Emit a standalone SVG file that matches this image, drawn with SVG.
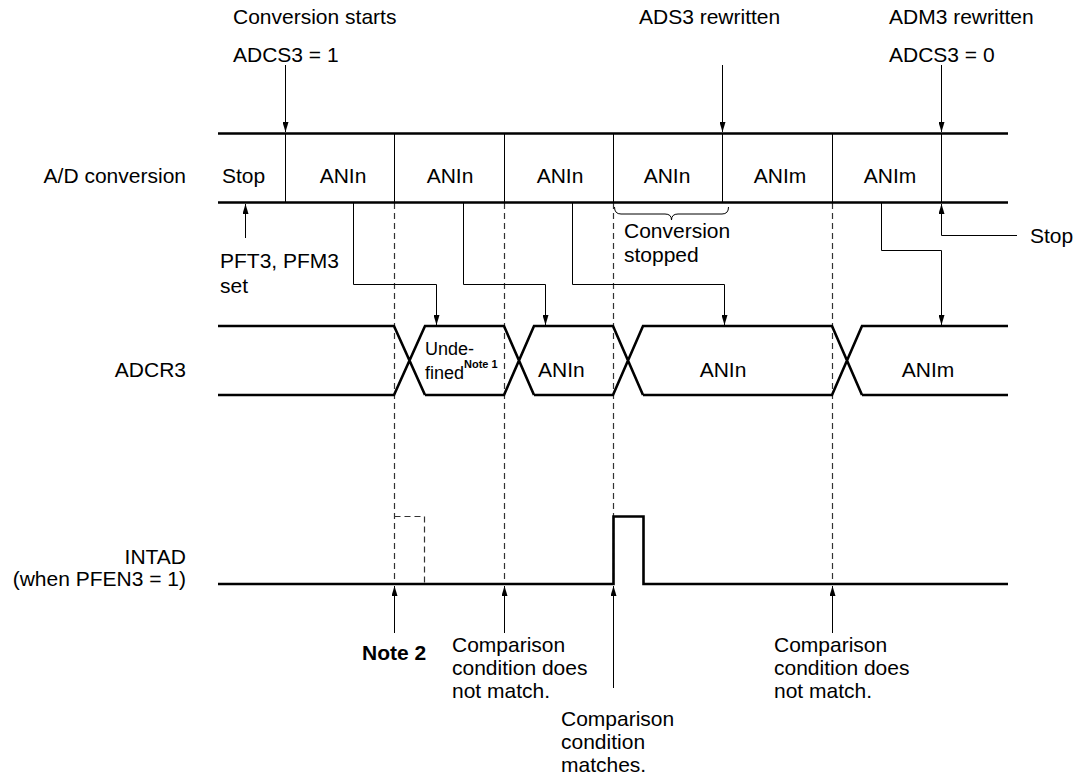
<svg xmlns="http://www.w3.org/2000/svg" width="1076" height="779" viewBox="0 0 1076 779">
<style>
.t{font-family:"Liberation Sans",Arial,sans-serif;font-size:21px;fill:#000}
.s{font-size:18px}
.sup{font-size:11px;font-weight:bold}
.b{font-weight:bold}
.bus{stroke:#000;stroke-width:2.6;fill:none}
.thin{stroke:#000;stroke-width:1;fill:none}
.dash{stroke:#333;stroke-width:1.2;stroke-dasharray:6,4;fill:none}
.m{text-anchor:middle}
.r{text-anchor:end}
</style>
<defs>
<marker id="ah" markerUnits="userSpaceOnUse" markerWidth="10" markerHeight="6" refX="10" refY="3" orient="auto">
<path d="M0,0 L10,3 L0,6 z" fill="#000"/>
</marker>
</defs>
<rect width="1076" height="779" fill="#fff"/>

<g id="dashed-guides">
<path class="dash" d="M394.5,203 V584 M504.5,203 V584 M613.5,203 V584 M832.5,203 V584"/>
<path class="dash" d="M394.5,516.5 H424.5 V584"/>
</g>

<g id="ad-conversion">
<text class="t r" x="186" y="183">A/D conversion</text>
<path class="bus" d="M218,133.5 H1008 M218,202.5 H1008"/>
<path class="thin" d="M285.5,133 V202 M394.5,133 V202 M504.5,133 V202 M613.5,133 V202 M722.5,133 V202 M832.5,133 V202 M941.5,133 V202"/>
<text class="t" x="222" y="183">Stop</text>
<text class="t m" x="343" y="183">ANIn</text>
<text class="t m" x="450" y="183">ANIn</text>
<text class="t m" x="560" y="183">ANIn</text>
<text class="t m" x="667" y="183">ANIn</text>
<text class="t m" x="780" y="183">ANIm</text>
<text class="t m" x="890" y="183">ANIm</text>
</g>

<g id="adcr3">
<text class="t r" x="186" y="377">ADCR3</text>
<path class="bus" d="M218,326 H394 L425,395 M218,395 H394 L425,326 H504 L534,395 M425,395 H504 L534,326 H613 L643,395 M534,395 H613 L643,326 H832 L862,395 M643,395 H832 L862,326 H1008 M862,395 H1008"/>
<text class="t s" x="425" y="355">Unde-</text>
<text class="t s" x="425" y="379">fined</text>
<text class="t sup" x="464" y="368">Note 1</text>
<text class="t" x="538" y="377">ANIn</text>
<text class="t m" x="723" y="377">ANIn</text>
<text class="t m" x="928" y="377">ANIm</text>
</g>

<g id="intad">
<text class="t r" x="186" y="564">INTAD</text>
<text class="t r" x="186" y="586">(when PFEN3 = 1)</text>
<path class="bus" d="M218,584 H613.5 V516.5 H643.5 V584 H1008"/>
</g>

<g id="top-labels">
<text class="t" x="233" y="24">Conversion starts</text>
<text class="t" x="233" y="62">ADCS3 = 1</text>
<text class="t" x="639" y="24">ADS3 rewritten</text>
<text class="t" x="889" y="24">ADM3 rewritten</text>
<text class="t" x="889" y="62">ADCS3 = 0</text>
</g>

<g id="side-labels">
<text class="t" x="220" y="268">PFT3, PFM3</text>
<text class="t" x="220" y="293">set</text>
<path class="thin" d="M614.5,207 Q614.5,214 621,214 H665 Q671.5,214 671.5,220 Q671.5,214 678,214 H722 Q728.5,214 728.5,207"/>
<text class="t" x="624" y="238">Conversion</text>
<text class="t" x="624" y="262">stopped</text>
<text class="t" x="1030" y="243">Stop</text>
</g>

<g id="bottom-labels">
<text class="t b" x="362" y="660">Note 2</text>
<text class="t" x="452" y="652">Comparison</text>
<text class="t" x="452" y="675">condition does</text>
<text class="t" x="452" y="698">not match.</text>
<text class="t" x="561" y="726">Comparison</text>
<text class="t" x="561" y="749">condition</text>
<text class="t" x="561" y="772">matches.</text>
<text class="t" x="774" y="652">Comparison</text>
<text class="t" x="774" y="675">condition does</text>
<text class="t" x="774" y="698">not match.</text>
</g>

<g id="connectors">
<path class="thin" marker-end="url(#ah)" d="M285.5,65 V132"/>
<path class="thin" marker-end="url(#ah)" d="M722.5,65 V132"/>
<path class="thin" marker-end="url(#ah)" d="M941.5,65 V132"/>
<path class="thin" marker-end="url(#ah)" d="M245.5,238 V204"/>
<path class="thin" marker-end="url(#ah)" d="M1017,235.5 H941.5 V204"/>
<path class="thin" marker-end="url(#ah)" d="M353.5,203 V284.5 H436.5 V325"/>
<path class="thin" marker-end="url(#ah)" d="M463.5,203 V284.5 H545.5 V325"/>
<path class="thin" marker-end="url(#ah)" d="M572.5,203 V284.5 H724.5 V325"/>
<path class="thin" marker-end="url(#ah)" d="M881.5,203 V250.5 H941.5 V325"/>
<path class="thin" marker-end="url(#ah)" d="M394.5,633 V586"/>
<path class="thin" marker-end="url(#ah)" d="M504.5,633 V586"/>
<path class="thin" marker-end="url(#ah)" d="M613.5,688 V586"/>
<path class="thin" marker-end="url(#ah)" d="M832.5,633 V586"/>
</g>
</svg>
